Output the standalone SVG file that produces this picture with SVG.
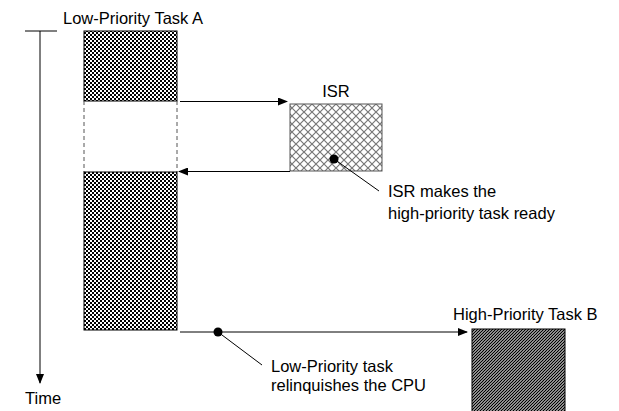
<svg xmlns="http://www.w3.org/2000/svg" width="619" height="411" viewBox="0 0 619 411">
<style>
text{font-family:"Liberation Sans",Arial,sans-serif;font-size:16.5px;fill:#000}
.ln{stroke:#000;stroke-width:1;fill:none}
.dash{stroke:#555;stroke-width:1;stroke-dasharray:4,3;fill:none}
</style>
<defs>
<pattern id="checker" width="4" height="4" patternUnits="userSpaceOnUse">
<rect width="4" height="4" fill="#fff"/>
<rect width="2" height="2" fill="#000"/>
<rect x="2" y="2" width="2" height="2" fill="#000"/>
</pattern>
<pattern id="cross" width="8" height="8" patternUnits="userSpaceOnUse">
<rect width="8" height="8" fill="#fff"/>
<path d="M0,0 L8,8 M8,0 L0,8" stroke="#777" stroke-width="1.2"/>
</pattern>
<pattern id="diag" width="3" height="3" patternUnits="userSpaceOnUse">
<rect width="3" height="3" fill="#fff"/>
<path d="M-1,1 L1,-1 M0,3 L3,0 M2,4 L4,2" stroke="#000" stroke-width="1.3"/>
</pattern>
<marker id="ah" markerWidth="10" markerHeight="8" refX="9" refY="4" orient="auto" markerUnits="userSpaceOnUse">
<path d="M0,0 L10,4 L0,8 z" fill="#000"/>
</marker>
</defs>
<g id="time-axis">
<line class="ln" x1="25" y1="31" x2="57" y2="31"/>
<line class="ln" x1="40" y1="31" x2="40" y2="383" marker-end="url(#ah)"/>
<text x="25" y="404">Time</text>
</g>
<g id="task-a">
<text x="63" y="24">Low-Priority Task A</text>
<rect x="84" y="31" width="93" height="70" fill="url(#checker)" stroke="#000"/>
<line class="dash" x1="84" y1="101" x2="84" y2="172"/>
<line class="dash" x1="177" y1="101" x2="177" y2="172"/>
<rect x="84" y="172" width="93" height="158" fill="url(#checker)" stroke="#000"/>
</g>
<g id="isr">
<text x="336" y="97" text-anchor="middle">ISR</text>
<rect x="290" y="104" width="92" height="67" fill="url(#cross)" stroke="#555"/>
</g>
<g id="task-b">
<text x="453" y="320">High-Priority Task B</text>
<rect x="472" y="329" width="93" height="84" fill="url(#diag)" stroke="#000"/>
</g>
<g id="connectors">
<line class="ln" x1="180" y1="101.5" x2="287" y2="101.5" marker-end="url(#ah)"/>
<line class="ln" x1="290" y1="171.5" x2="179" y2="171.5" marker-end="url(#ah)"/>
<line class="ln" x1="180" y1="332" x2="467" y2="332" marker-end="url(#ah)"/>
<circle cx="334" cy="159" r="4.5" fill="#000"/>
<line class="ln" x1="334" y1="159" x2="379" y2="191"/>
<circle cx="218" cy="332" r="4.5" fill="#000"/>
<line class="ln" x1="218" y1="332" x2="262" y2="365"/>
</g>
<g id="labels">
<text x="388" y="197">ISR makes the</text>
<text x="388" y="219">high-priority task ready</text>
<text x="271" y="372">Low-Priority task</text>
<text x="271" y="391">relinquishes the CPU</text>
</g>
</svg>
